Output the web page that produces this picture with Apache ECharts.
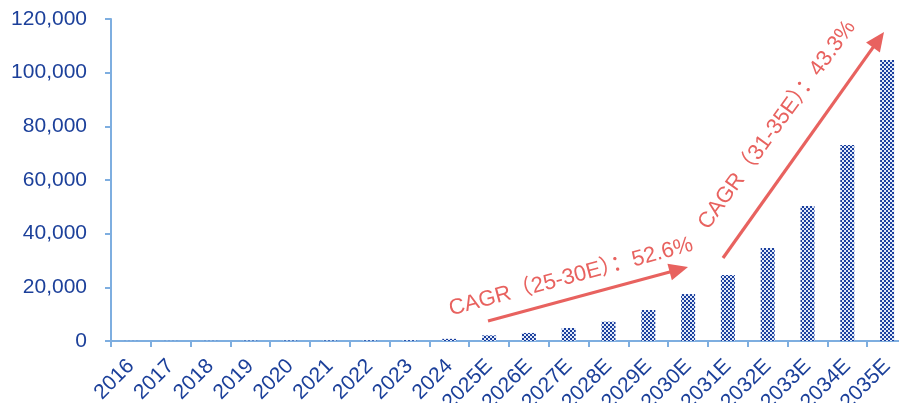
<!DOCTYPE html>
<html>
<head>
<meta charset="utf-8">
<script src="https://cdn.jsdelivr.net/npm/echarts@6/dist/echarts.min.js"></script>
<style>
html,body{margin:0;padding:0;background:#fff;}
#chart{width:899px;height:403px;}
</style>
</head>
<body>
<div id="chart"></div>
<script>
const categories = ['2016','2017','2018','2019','2020','2021','2022','2023','2024','2025E','2026E','2027E','2028E','2029E','2030E','2031E','2032E','2033E','2034E','2035E'];
const values = [30, 40, 60, 150, 180, 200, 250, 300, 800, 2100, 3000, 4850, 7200, 11550, 17500, 24600, 34700, 50300, 73000, 104700];
const yTicks = { min: 0, max: 120000, interval: 20000 };
const notes = ['CAGR（25-30E）：52.6%', 'CAGR（31-35E）：43.3%'];

const textColor = '#1c409a';
const axisColor = '#7eaee0';
const red = '#e8625f';
const fontFam = "'Liberation Sans', Arial, 'Noto Sans CJK SC', sans-serif";

function makePattern() {
  const c = document.createElement('canvas');
  c.width = 4; c.height = 4;
  const g = c.getContext('2d');
  g.fillStyle = '#e2eaf8'; g.fillRect(0, 0, 4, 4);
  g.fillStyle = '#1b3f9e';
  g.fillRect(0, 0, 2, 2); g.fillRect(2, 2, 2, 2);
  return c;
}

function arrow(x1, y1, x2, y2) {
  const dx = x2 - x1, dy = y2 - y1;
  const len = Math.sqrt(dx * dx + dy * dy);
  const ux = dx / len, uy = dy / len;
  const hl = 19, hw = 8.5;
  const bx = x2 - ux * hl, by = y2 - uy * hl;
  return [
    { type: 'line', shape: { x1: x1, y1: y1, x2: bx + ux * 2, y2: by + uy * 2 }, style: { stroke: red, lineWidth: 3.2 } },
    { type: 'polygon', shape: { points: [[x2, y2], [bx - uy * hw, by + ux * hw], [bx + uy * hw, by - ux * hw]] }, style: { fill: red } }
  ];
}

const chart = echarts.init(document.getElementById('chart'));
chart.setOption({
  animation: false,
  backgroundColor: '#fff',
  grid: { left: 111, right: -8, top: 19, bottom: 62, containLabel: false, outerBoundsMode: 'none' },
  xAxis: {
    type: 'category',
    data: categories,
    axisLine: { show: true, lineStyle: { color: axisColor, width: 2 } },
    axisTick: { show: true, length: 6, alignWithLabel: false, lineStyle: { color: axisColor, width: 2 } },
    axisLabel: { rotate: 45, interval: 0, margin: 22, color: textColor, fontSize: 21, fontFamily: fontFam }
  },
  yAxis: {
    type: 'value',
    min: yTicks.min, max: yTicks.max, interval: yTicks.interval,
    splitLine: { show: false },
    axisLine: { show: true, lineStyle: { color: axisColor, width: 2 } },
    axisTick: { show: true, length: 6, lineStyle: { color: axisColor, width: 2 } },
    axisLabel: { margin: 24, color: textColor, fontSize: 21, fontFamily: fontFam,
      formatter: v => v.toLocaleString('en-US') }
  },
  series: [{
    type: 'bar',
    data: values,
    barWidth: 14,
    itemStyle: { color: { image: makePattern(), repeat: 'repeat' } }
  }],
  graphic: [
    ...arrow(488, 321, 688, 267),
    ...arrow(723, 258, 884, 32),
    { type: 'text', x: 571, y: 277, rotation: 15 * Math.PI / 180,
      style: { text: notes[0], font: "22px " + fontFam, fill: red, align: 'center', verticalAlign: 'middle' } },
    { type: 'text', x: 777, y: 125, rotation: 54 * Math.PI / 180,
      style: { text: notes[1], font: "22px " + fontFam, fill: red, align: 'center', verticalAlign: 'middle' } }
  ]
});
</script>
</body>
</html>
